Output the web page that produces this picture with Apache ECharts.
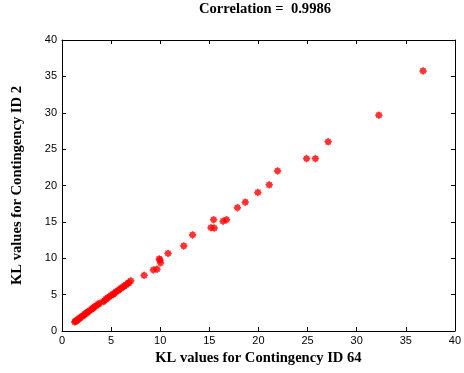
<!DOCTYPE html>
<html>
<head>
<meta charset="utf-8">
<script src="https://cdn.jsdelivr.net/npm/echarts@6/dist/echarts.min.js"></script>
<style>html,body{margin:0;padding:0;background:#fff}#c{width:464px;height:373px}</style>
</head>
<body>
<div id="c"></div>
<script>
var xTicks = [0, 5, 10, 15, 20, 25, 30, 35, 40];
var yTicks = [0, 5, 10, 15, 20, 25, 30, 35, 40];
var xValues = [1.30, 1.38, 1.45, 1.55, 1.64, 1.75, 1.85, 1.98, 2.10, 2.20, 2.32, 2.45, 2.55, 2.65, 2.80, 2.99, 3.10, 3.20, 3.32, 3.50, 3.66, 3.80, 4.20, 4.33, 4.50, 4.65, 4.83, 5.00, 5.20, 5.34, 5.50, 5.70, 5.85, 6.00, 6.15, 6.34, 6.50, 6.68, 6.80, 7.00, 8.36, 9.30, 9.67, 9.97, 10.04, 9.90, 10.8, 12.4, 13.3, 15.17, 15.5, 15.44, 16.4, 16.75, 17.86, 18.66, 19.94, 21.1, 21.95, 24.9, 25.8, 27.1, 32.26, 36.76];
var yValues = [1.25, 1.33, 1.40, 1.50, 1.60, 1.70, 1.82, 1.97, 2.05, 2.15, 2.33, 2.42, 2.52, 2.65, 2.78, 2.98, 3.08, 3.18, 3.34, 3.48, 3.67, 3.78, 4.05, 4.17, 4.40, 4.55, 4.72, 4.90, 5.05, 5.17, 5.40, 5.55, 5.70, 5.86, 6.00, 6.18, 6.30, 6.55, 6.60, 6.90, 7.65, 8.40, 8.50, 9.75, 9.38, 9.90, 10.67, 11.7, 13.2, 14.2, 14.15, 15.3, 15.1, 15.3, 16.95, 17.7, 19.05, 20.1, 22.0, 23.7, 23.7, 26.0, 29.67, 35.75];

var pts = xValues.map(function (x, i) { return [x, yValues[i]]; });
var star = 'path://M0,-5 L1.9,-3.3 L3.6,-3.6 L3.3,-1.9 L5,0 L3.3,1.9 L3.6,3.6 L1.9,3.3 L0,5 L-1.9,3.3 L-3.6,3.6 L-3.3,1.9 L-5,0 L-3.3,-1.9 L-3.6,-3.6 L-1.9,-3.3 Z';
var labelFont = { color: '#000', fontFamily: 'Liberation Sans', fontSize: 11 };
var nameFont = { color: '#000', fontFamily: 'Liberation Serif', fontSize: 14.6, fontWeight: 'bold' };
function tickAxis(pos, show) {
  return {
    type: 'value', min: 0, max: 40, interval: 5, position: pos,
    axisLine: { show: true, onZero: false, lineStyle: { color: '#000', width: 1 } },
    axisTick: { show: true, inside: true, length: 4, lineStyle: { color: '#000' } },
    axisLabel: show ? Object.assign({ margin: 4 }, labelFont) : { show: false },
    splitLine: { show: false }
  };
}
var xa0 = tickAxis('bottom', true);
xa0.name = 'KL values for Contingency ID 64';
xa0.nameLocation = 'middle';
xa0.nameGap = 17;
xa0.nameTextStyle = nameFont;
var ya0 = tickAxis('left', true);
ya0.name = 'KL values for Contingency ID 2';
ya0.nameLocation = 'middle';
ya0.nameGap = 37;
ya0.nameTextStyle = nameFont;
ya0.axisLabel.margin = 5;

var chart = echarts.init(document.getElementById('c'), null, { renderer: 'canvas' });
chart.setOption({
  backgroundColor: '#fff',
  animation: false,
  title: {
    text: 'Correlation =  0.9986', left: 260, top: -3, textAlign: 'center',
    textStyle: { color: '#000', fontFamily: 'Liberation Serif', fontSize: 14.6, fontWeight: 'bold' }
  },
  grid: { left: 62, right: 5, top: 40, bottom: 42, containLabel: false },
  xAxis: [xa0, tickAxis('top', false)],
  yAxis: [ya0, tickAxis('right', false)],
  series: [{
    type: 'scatter', xAxisIndex: 0, yAxisIndex: 0, data: pts,
    symbol: star, symbolSize: 8, itemStyle: { color: '#ff0000' }
  }]
});
</script>
</body>
</html>
